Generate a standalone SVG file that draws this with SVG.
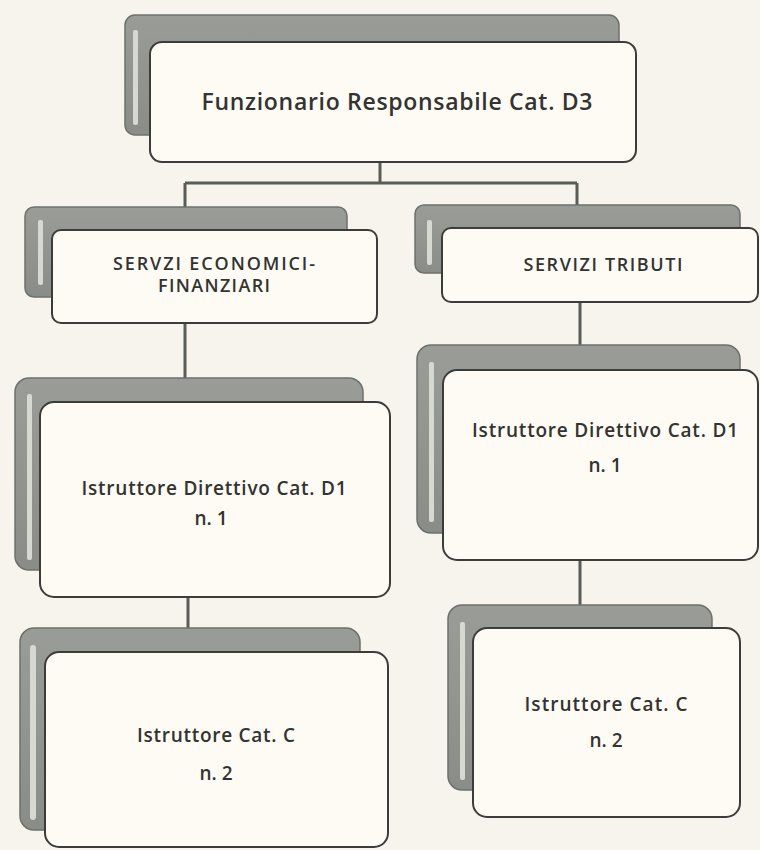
<svg xmlns="http://www.w3.org/2000/svg" width="760" height="850" viewBox="0 0 760 850">
<defs>
<linearGradient id="sh" x1="0" y1="0" x2="0" y2="1">
<stop offset="0" stop-color="#9a9c98"/>
<stop offset="1" stop-color="#8a8c88"/>
</linearGradient>
</defs>
<style>
.bg{fill:#f6f4ec}
.shadow{fill:url(#sh);stroke:#6e706c;stroke-width:1.5}
.stripe{fill:#d6d8d2}
.box{fill:#fdfbf4;stroke:#3c3c3a;stroke-width:2}
.line{fill:none;stroke:#5a5c58;stroke-width:3}
text{font-family:"Open Sans","Liberation Sans",sans-serif;fill:#333331;text-anchor:middle;font-weight:600}
.t1{font-size:23px}
.t2{font-size:18px}
.t3{font-size:19px}
</style>
<rect class="bg" x="0" y="0" width="760" height="850"/>
<g id="connectors">
<path class="line" d="M380 162 V183 M185 183 H577 M185 183 V207 M577 183 V205"/>
<path class="line" d="M185 323 V378"/>
<path class="line" d="M580 302 V345"/>
<path class="line" d="M188 597 V628"/>
<path class="line" d="M580 560 V605"/>
</g>
<g id="n-top">
<rect class="shadow" x="125" y="15" width="494" height="120" rx="10"/>
<rect class="stripe" x="133" y="30" width="5" height="95" rx="2"/>
<rect class="box" x="150" y="42" width="486" height="120" rx="12"/>
<text class="t1" x="397" y="110" textLength="391">Funzionario Responsabile Cat. D3</text>
</g>
<g id="n-sef">
<rect class="shadow" x="25" y="207" width="322" height="90" rx="9"/>
<rect class="stripe" x="38" y="220" width="5" height="65" rx="2"/>
<rect class="box" x="52" y="230" width="325" height="93" rx="9"/>
<text class="t2" x="214" y="270" textLength="202">SERVZI ECONOMICI-</text>
<text class="t2" x="214" y="292" textLength="112">FINANZIARI</text>
</g>
<g id="n-trib">
<rect class="shadow" x="415" y="205" width="325" height="68" rx="9"/>
<rect class="stripe" x="427" y="220" width="5" height="45" rx="2"/>
<rect class="box" x="442" y="228" width="316" height="74" rx="9"/>
<text class="t2" x="603" y="271" textLength="159">SERVIZI TRIBUTI</text>
</g>
<g id="n-d1-left">
<rect class="shadow" x="15" y="378" width="348" height="192" rx="14"/>
<rect class="stripe" x="27" y="394" width="5" height="166" rx="2"/>
<rect class="box" x="40" y="402" width="350" height="195" rx="14"/>
<text class="t3" x="214" y="495" textLength="265">Istruttore Direttivo Cat. D1</text>
<text class="t3" x="211" y="525">n. 1</text>
</g>
<g id="n-d1-right">
<rect class="shadow" x="417" y="345" width="323" height="188" rx="14"/>
<rect class="stripe" x="429" y="362" width="5" height="160" rx="2"/>
<rect class="box" x="443" y="370" width="315" height="190" rx="14"/>
<text class="t3" x="605" y="437" textLength="266">Istruttore Direttivo Cat. D1</text>
<text class="t3" x="605" y="472">n. 1</text>
</g>
<g id="n-c-left">
<rect class="shadow" x="20" y="628" width="340" height="202" rx="14"/>
<rect class="stripe" x="30" y="645" width="6" height="175" rx="3"/>
<rect class="box" x="45" y="652" width="343" height="195" rx="14"/>
<text class="t3" x="216" y="742" textLength="158">Istruttore Cat. C</text>
<text class="t3" x="216" y="780">n. 2</text>
</g>
<g id="n-c-right">
<rect class="shadow" x="448" y="605" width="264" height="185" rx="14"/>
<rect class="stripe" x="460" y="622" width="5" height="158" rx="2"/>
<rect class="box" x="473" y="628" width="267" height="189" rx="14"/>
<text class="t3" x="606" y="711" textLength="163">Istruttore  Cat. C</text>
<text class="t3" x="606" y="747">n. 2</text>
</g>
</svg>
